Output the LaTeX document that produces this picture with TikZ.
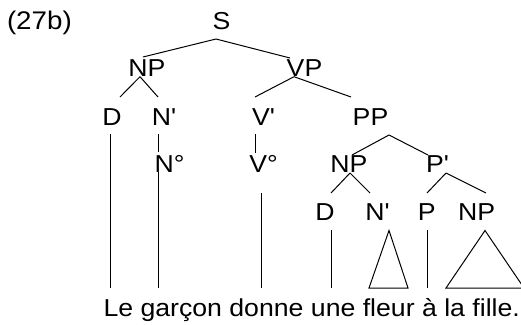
\documentclass[tikz,border=0pt]{standalone}
\usepackage{fontspec}
\setmainfont[FakeStretch=1.088, Ligatures=TeXOff]{Liberation Sans}
\usetikzlibrary{math}
\tikzset{lbl/.style={inner sep=0pt, anchor=base, font=\fontsize{24.5}{29}\selectfont}}
\tikzset{branch/.style={line width=1pt}}

\begin{document}
\begin{tikzpicture}[x=1pt, y=-1pt, branch]

  \tikzmath{\ya = 29.5; \yb = 76.7; \yc = 125; \yd = 172; \ye = 220.5; \ys = 316; \yw = 288;}
  \useasboundingbox (0,0) rectangle (521,324);

  % labels
  \node[lbl, anchor=base west, font=\fontsize{25.5}{30}\selectfont] (ex) at (6.5,\ya) {(27b)};
  \node[lbl] (s) at (221.5,\ya) {S};
  \node[lbl] (np1) at (147,\yb) {NP};
  \node[lbl] (vp) at (304.5,\yb) {VP};
  \node[lbl] (d1) at (112,\yc) {D};
  \node[lbl] (nb1) at (164,\yc) {N'};
  \node[lbl] (vb) at (263.5,\yc) {V'};
  \node[lbl] (pp) at (370.5,\yc) {PP};
  \node[lbl] (n0) at (169.5,\yd) {N°};
  \node[lbl] (v0) at (263.5,\yd) {V°};
  \node[lbl] (np2) at (349,\yd) {NP};
  \node[lbl] (pb) at (437.5,\yd) {P'};
  \node[lbl] (d2) at (325,\ye) {D};
  \node[lbl] (nb2) at (377.5,\ye) {N'};
  \node[lbl] (p2) at (426.7,\ye) {P};
  \node[lbl] (np3) at (476.7,\ye) {NP};
  \node[lbl, anchor=base west] (sent) at (103,\ys) {Le garçon donne une fleur à la fille.};

  % feet of the branches over the words
  \coordinate (w-le) at (110,\yw);
  \coordinate (w-garcon) at (158,\yw);
  \coordinate (w-donne) at (261,\yw);
  \coordinate (w-une) at (331,\yw);
  \coordinate (w-fleur-l) at (369,\yw);
  \coordinate (w-fleur-r) at (408,\yw);
  \coordinate (w-a) at (427,\yw);
  \coordinate (w-fille-l) at (446,\yw);
  \coordinate (w-fille-r) at (524,\yw);

  % S, NP, VP
  \draw ([xshift=-5.5pt,yshift=-9.5pt]s.base) -- ([xshift=-4pt,yshift=19.7pt]np1.base);
  \draw ([xshift=-5.5pt,yshift=-9.5pt]s.base) -- ([xshift=-14.5pt,yshift=18.7pt]vp.base);
  \draw ([xshift=-7pt]np1.base) -- ([xshift=8pt,yshift=28pt]d1.base);
  \draw ([xshift=-7pt]np1.base) -- ([xshift=-6pt,yshift=28pt]nb1.base);
  \draw ([xshift=-10.5pt]vp.base) -- ([xshift=-8.5pt,yshift=28pt]vb.base);
  \draw ([xshift=-10.5pt]vp.base) -- ([xshift=-19.5pt,yshift=28pt]pp.base);

  % PP
  \draw ([xshift=18.5pt,yshift=-10pt]pp.base) -- ([xshift=3pt,yshift=17pt]np2.base);
  \draw ([xshift=18.5pt,yshift=-10pt]pp.base) -- ([xshift=-9.5pt,yshift=17pt]pb.base);
  \draw ([xshift=1pt,yshift=-1pt]np2.base) -- ([xshift=6pt,yshift=27.5pt]d2.base);
  \draw ([xshift=1pt,yshift=-1pt]np2.base) -- ([xshift=-7.5pt,yshift=27.5pt]nb2.base);
  \draw ([xshift=8.5pt,yshift=-1pt]pb.base) -- ([xshift=0.3pt,yshift=27.5pt]p2.base);
  \draw ([xshift=8.5pt,yshift=-1pt]pb.base) -- ([xshift=9.3pt,yshift=27.5pt]np3.base);

  % down to the words
  \draw ([xshift=-2pt,yshift=-9pt]d1.base) -- (w-le);
  \draw ([xshift=-6pt,yshift=-9pt]nb1.base) -- ([xshift=-11.5pt,yshift=20pt]n0.base);
  \draw ([xshift=-11.5pt]n0.base) -- (w-garcon);
  \draw ([xshift=-8.5pt,yshift=-9pt]vb.base) -- ([xshift=-8.5pt,yshift=19pt]v0.base);
  \draw ([xshift=-2.5pt,yshift=-21pt]v0.base) -- (w-donne);
  \draw ([xshift=6pt,yshift=-9.5pt]d2.base) -- (w-une);
  \draw ([xshift=11.5pt,yshift=-10pt]nb2.base) -- (w-fleur-l) -- (w-fleur-r) -- cycle;
  \draw ([xshift=0.3pt,yshift=-9.5pt]p2.base) -- (w-a);
  \draw ([xshift=8.3pt,yshift=-10pt]np3.base) -- (w-fille-l) -- (w-fille-r) -- cycle;

\end{tikzpicture}
\end{document}
